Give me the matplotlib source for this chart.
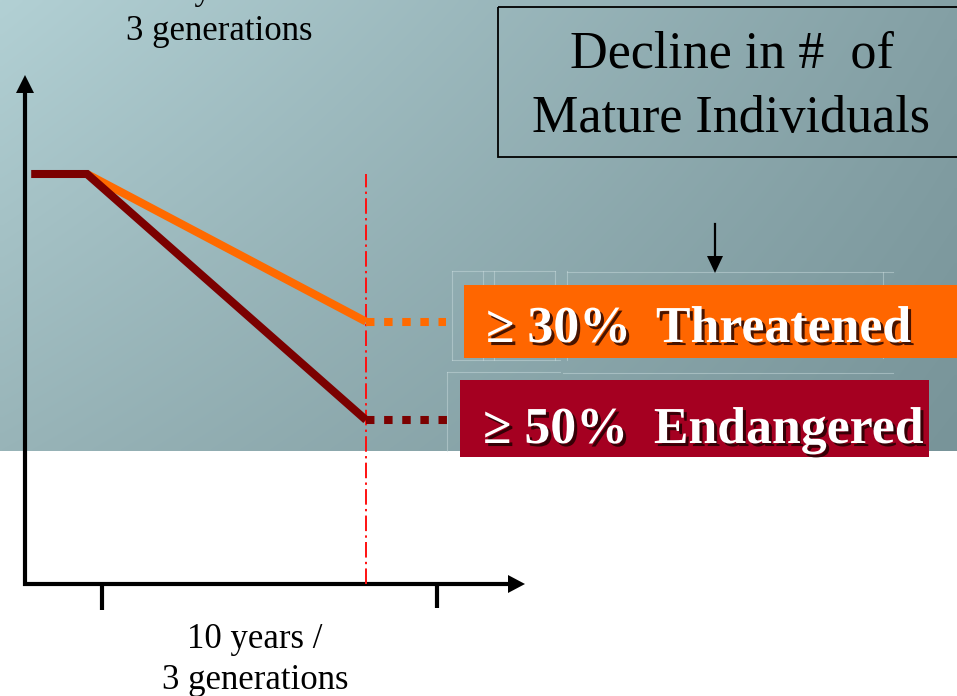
import numpy as np
import matplotlib
matplotlib.use("Agg")
import matplotlib.pyplot as plt
from matplotlib import patheffects as pe
from matplotlib.patches import Rectangle, Polygon

# ---- data -------------------------------------------------------------
years = [-2.0, 0.0, 10.0]            # time (years) at the curve vertices
threatened = [100.0, 100.0, 70.0]     # population index, 30 % decline
endangered = [100.0, 100.0, 50.0]     # population index, 50 % decline
window_end = 10.0                     # end of the 10-year / 3-generation window
projection_end = 13.0                 # dotted projection towards the labels
category_labels = ["\u2265 30%  Threatened", "\u2265 50%  Endangered"]
axis_label = ["10 years /", "3 generations"]
title_lines = ["Decline in #  of", "Mature Individuals"]

# ---- layout -----------------------------------------------------------
W, H = 957, 696
SERIF = ["Liberation Serif", "DejaVu Serif"]
ORANGE = "#ff6a00"
DARKRED = "#7b0000"
CRIMSON = "#a50021"

fig = plt.figure(figsize=(W / 100, H / 100), dpi=100)

# pixel-space canvas for the slide background and annotations
bg = fig.add_axes([0, 0, 1, 1])
bg.set_xlim(0, W)
bg.set_ylim(H, 0)
bg.axis("off")

# teal-grey gradient band over the upper part of the slide
band_h = 451
gx = np.linspace(0, 1, 200)[None, :]
gy = np.linspace(0, 1, 120)[:, None]
tl = np.array([178, 208, 212]); tr = np.array([132, 160, 165])
bl = np.array([152, 180, 184]); br = np.array([120, 148, 153])
grad = ((1 - gx)[..., None] * (1 - gy)[..., None] * tl
        + gx[..., None] * (1 - gy)[..., None] * tr
        + (1 - gx)[..., None] * gy[..., None] * bl
        + gx[..., None] * gy[..., None] * br) / 255.0
bg.imshow(grad, extent=(0, W, band_h, 0), aspect="auto", interpolation="bilinear", zorder=0)
bg.set_xlim(0, W)
bg.set_ylim(H, 0)

# faint outlines behind the category labels
faint = dict(color="#cfe0e2", lw=0.8, alpha=0.45, zorder=1)
for xs, ys in [([452, 555], [271, 271]), ([452, 452], [271, 360]), ([452, 560], [360, 360]),
               ([483, 483], [271, 360]), ([494, 494], [271, 360]), ([555, 555], [271, 360]),
               ([567, 567], [271, 360]), ([883, 883], [272, 358]), ([567, 893], [272, 272]),
               ([447, 560], [372, 372]), ([447, 447], [372, 451]), ([563, 893], [373, 373])]:
    bg.plot(xs, ys, **faint)

# title box
bg.add_patch(Rectangle((498, 7), 470, 150, fill=False, ec="black", lw=1.3, zorder=3))
bg.text(732, 67, title_lines[0], ha="center", va="baseline", fontsize=37.5,
        family=SERIF, color="black", zorder=4)
bg.text(731, 132, title_lines[1], ha="center", va="baseline", fontsize=37.5,
        family=SERIF, color="black", zorder=4)

# small arrow from the title down to the categories
bg.plot([715, 715], [224, 258], color="black", lw=1.6, zorder=4)
bg.add_patch(Polygon([(707, 256), (723, 256), (715, 273)], closed=True, fc="black", ec="none", zorder=4))

# axis label above the plot (first line runs off the top edge)
bg.text(219, 40 - 41, axis_label[0], ha="center", va="baseline", fontsize=25, family=SERIF, zorder=4)
bg.text(219, 40, axis_label[1], ha="center", va="baseline", fontsize=25, family=SERIF, zorder=4)

# axis label below the plot
bg.text(255, 648, axis_label[0], ha="center", va="baseline", fontsize=25, family=SERIF, zorder=4)
bg.text(255, 689, axis_label[1], ha="center", va="baseline", fontsize=25, family=SERIF, zorder=4)

# axes drawn as arrows
axis_lw = 3.0
bg.plot([25, 25], [586, 90], color="black", lw=axis_lw, solid_capstyle="butt", zorder=5)
bg.add_patch(Polygon([(16, 93), (34, 93), (25, 75)], closed=True, fc="black", ec="none", zorder=5))
bg.plot([23, 510], [584, 584], color="black", lw=axis_lw, solid_capstyle="butt", zorder=5)
bg.add_patch(Polygon([(508, 575), (508, 593), (525, 584)], closed=True, fc="black", ec="none", zorder=5))
bg.plot([101.5, 101.5], [584, 610], color="black", lw=axis_lw, solid_capstyle="butt", zorder=5)
bg.plot([437, 437], [584, 608], color="black", lw=axis_lw, solid_capstyle="butt", zorder=5)

# category boxes
shadow = [pe.SimplePatchShadow(offset=(2.2, -2.2), shadow_rgbFace="#1a0000", alpha=0.8), pe.Normal()]
bg.add_patch(Rectangle((464, 285), W - 464 + 5, 73, fc="#ff6600", ec="none", zorder=3))
bg.text(486, 342, category_labels[0], ha="left", va="baseline", fontsize=37.3, fontweight="bold",
        family=SERIF, color="white", path_effects=shadow, zorder=4)
bg.add_patch(Rectangle((460, 380), 469, 77, fc=CRIMSON, ec="none", zorder=3))
bg.text(483, 443, category_labels[1], ha="left", va="baseline", fontsize=37.3, fontweight="bold",
        family=SERIF, color="white", path_effects=shadow, zorder=4)

# ---- data axes ---------------------------------------------------------
ax = fig.add_axes([0, 0, 1, 1])
ax.patch.set_alpha(0)
ax.axis("off")

# anchor: year 0 -> px 87, window_end -> px 366 ; index 100 -> px 174, 50 -> px 420
px_per_year = (366 - 87) / window_end
px_per_unit = (420 - 174) / 50.0
ax.set_xlim(-87 / px_per_year, (W - 87) / px_per_year)
ax.set_ylim(100 - (H - 174) / px_per_unit, 100 + 174 / px_per_unit)
axis_level = 100 - (584 - 174) / px_per_unit

lw_curve = 5.8
ax.plot([window_end, window_end], [axis_level, 100], color="#ff1010", lw=1.4,
        dashes=(8, 2.2, 1.2, 2.2), zorder=3)
ax.plot(years[1:], threatened[1:], color=ORANGE, lw=lw_curve, solid_capstyle="butt",
        solid_joinstyle="miter", zorder=4)
ax.plot(years, endangered, color=DARKRED, lw=lw_curve, solid_capstyle="butt",
        solid_joinstyle="miter", zorder=5)
ax.plot([window_end, projection_end - 0.15], [threatened[-1]] * 2, color=ORANGE, lw=lw_curve,
        dashes=(1.05, 1.2), dash_capstyle="butt", zorder=4)
ax.plot([window_end, projection_end], [endangered[-1]] * 2, color=DARKRED, lw=lw_curve,
        dashes=(1.05, 1.2), dash_capstyle="butt", zorder=4)

fig.savefig("out.png", dpi=100)
